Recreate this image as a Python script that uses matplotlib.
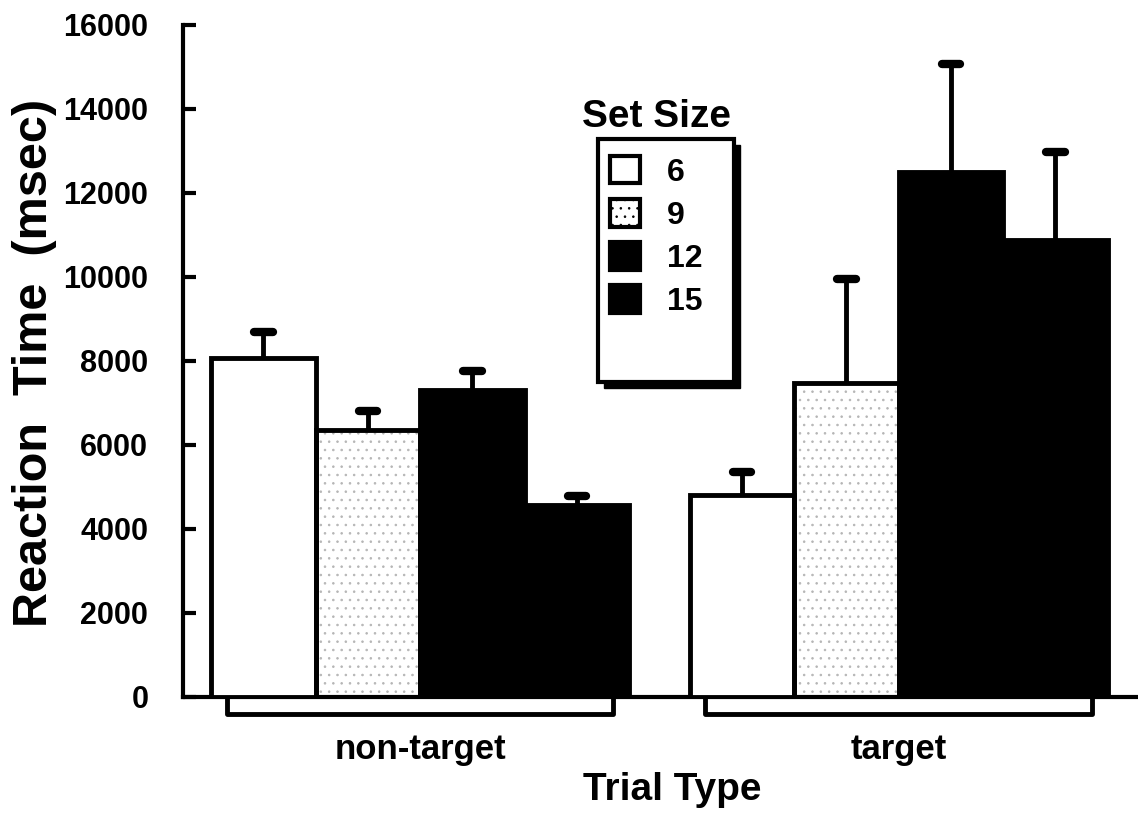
import matplotlib
matplotlib.use("Agg")
import matplotlib.pyplot as plt
import numpy as np
from matplotlib.patches import Patch, Rectangle

# datos
grupos = ["non-target", "target"]
set_sizes = ["6", "9", "12", "15"]
# tiempos medios (msec) por set size, para non-target y target
media_6 = [8080, 4820]
media_9 = [6360, 7480]
media_12 = [7300, 12500]
media_15 = [4560, 10880]
# limite superior de la barra de error
error_6 = [8690, 5350]
error_9 = [6800, 9950]
error_12 = [7760, 15070]
error_15 = [4790, 12980]

medias = [media_6, media_9, media_12, media_15]
errores = [error_6, error_9, error_12, error_15]

plt.rcParams['font.family'] = ['Liberation Sans', 'DejaVu Sans']
plt.rcParams['font.weight'] = 'bold'
plt.rcParams['hatch.linewidth'] = 0.6

fig = plt.figure(figsize=(11.38, 8.15), dpi=100)
ax = fig.add_axes([183 / 1138, 118 / 815, 955 / 1138, 672 / 815])

ancho = 1.0
sep = 4.58
centros = np.arange(len(grupos)) * sep

caras = ['white', 'white', 'black', 'black']
tramas = [None, '..', None, None]
lw_borde = 3.5

for i in range(len(set_sizes)):
    xs = centros + (i - 1.5) * ancho
    if tramas[i]:
        ax.bar(xs, medias[i], ancho, color='white', edgecolor='#b5b5b5',
               hatch=tramas[i], linewidth=0, zorder=2)
        ax.bar(xs, medias[i], ancho, fill=False, edgecolor='black',
               linewidth=lw_borde, zorder=3)
    else:
        ax.bar(xs, medias[i], ancho, color=caras[i], edgecolor='black',
               linewidth=lw_borde, zorder=3)
    # barras de error solo hacia arriba
    ax.vlines(xs, medias[i], errores[i], color='black', linewidth=3.5, zorder=4)
    cap = ax.hlines(errores[i], xs - 0.09, xs + 0.09, color='black', linewidth=6, zorder=4)
    cap.set_capstyle('round')

# corchetes bajo cada grupo
for c in centros:
    ax.plot([c - 1.85, c - 1.85, c + 1.85, c + 1.85], [0, -400, -400, 0],
            color='black', linewidth=3.5, clip_on=False, zorder=1)

ax.set_xlim(-2.27, 6.87)
ax.set_ylim(0, 16000)
ax.set_yticks(np.arange(0, 16001, 2000))
ax.tick_params(axis='y', direction='in', length=9, width=3, pad=25, labelsize=22)
ax.set_xticks([])
for s in ['top', 'right']:
    ax.spines[s].set_visible(False)
for s in ['left', 'bottom']:
    ax.spines[s].set_linewidth(3)

for c, g in zip(centros, grupos):
    ax.text(c, -1250, g, ha='center', va='center', fontsize=25, fontweight='bold')
fig.text(672 / 1138, 1 - 790 / 815, 'Trial Type', ha='center', va='center',
         fontsize=28, fontweight='bold')
fig.text(35 / 1138, 1 - 363 / 815, 'Reaction  Time  (msec)', ha='center', va='center',
         rotation=90, fontsize=35, fontweight='bold')

# leyenda: caja con sombra y titulo fuera
sombra = Rectangle((604 / 1138, 1 - 388 / 815), 136 / 1138, 243 / 815,
                   transform=fig.transFigure, facecolor='black', edgecolor='black', zorder=5)
caja = Rectangle((598 / 1138, 1 - 382 / 815), 136 / 1138, 243 / 815,
                 transform=fig.transFigure, facecolor='white', edgecolor='black',
                 linewidth=3, zorder=6)
fig.add_artist(sombra)
fig.add_artist(caja)
fig.text(657 / 1138, 1 - 117 / 815, 'Set Size', ha='center', va='center',
         fontsize=28, fontweight='bold', zorder=7)

handles = [Patch(facecolor=caras[i], edgecolor='black', linewidth=3,
                 hatch=tramas[i]) for i in range(len(set_sizes))]
leg = fig.legend(handles, set_sizes, loc='upper left',
                 bbox_to_anchor=(610 / 1138, 1 - 156 / 815), frameon=False,
                 fontsize=23, handlelength=0.94, handleheight=0.94,
                 handletextpad=0.85, labelspacing=0.36, borderpad=0,
                 borderaxespad=0)
leg.set_zorder(8)

fig.savefig('out.png', dpi=100)
